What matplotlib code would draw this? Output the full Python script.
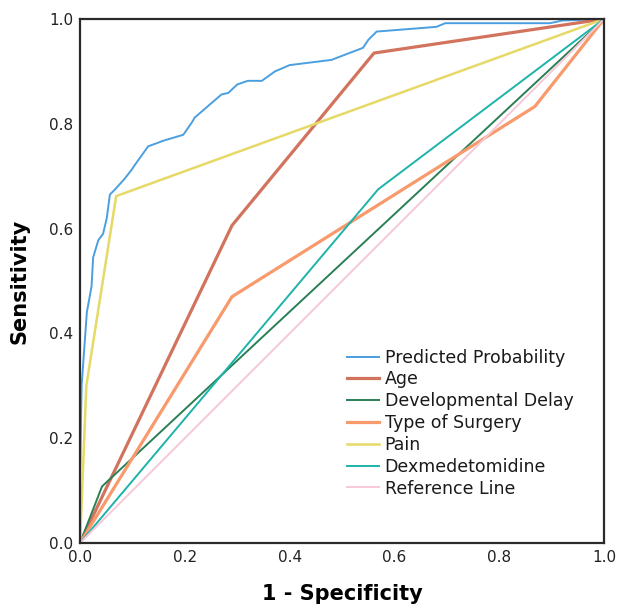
import matplotlib

matplotlib.use("Agg")
import matplotlib.pyplot as plt

# ROC curves (x = 1 - specificity, y = sensitivity)
pred_x = [0.0, 0.0, 0.003, 0.013, 0.022, 0.025, 0.035, 0.044, 0.051, 0.057,
          0.067, 0.085, 0.099, 0.105, 0.13, 0.16, 0.197, 0.213, 0.219, 0.27,
          0.283, 0.30, 0.32, 0.347, 0.372, 0.40, 0.48, 0.54, 0.55, 0.566,
          0.68, 0.697, 0.897, 0.92, 1.0]
pred_y = [0.0, 0.12, 0.30, 0.44, 0.49, 0.545, 0.578, 0.59, 0.62, 0.665,
          0.675, 0.695, 0.713, 0.722, 0.757, 0.768, 0.779, 0.802, 0.812, 0.856,
          0.859, 0.875, 0.882, 0.882, 0.90, 0.912, 0.922, 0.945, 0.96, 0.976,
          0.985, 0.992, 0.992, 0.997, 1.0]

age_x = [0.0, 0.29, 0.561, 1.0]
age_y = [0.0, 0.606, 0.935, 1.0]

delay_x = [0.0, 0.042, 1.0]
delay_y = [0.0, 0.108, 1.0]

surgery_x = [0.0, 0.29, 0.868, 1.0]
surgery_y = [0.0, 0.47, 0.833, 1.0]

pain_x = [0.0, 0.012, 0.069, 1.0]
pain_y = [0.0, 0.30, 0.662, 1.0]

dex_x = [0.0, 0.569, 1.0]
dex_y = [0.0, 0.675, 1.0]

ref_x = [0.0, 1.0]
ref_y = [0.0, 1.0]

ticks = [0.0, 0.2, 0.4, 0.6, 0.8, 1.0]

fig = plt.figure(figsize=(6.17, 6.09), dpi=100)
ax = fig.add_axes([0.1297, 0.1084, 0.8493, 0.8604])

ax.plot(pred_x, pred_y, color="#4a9fe0", lw=1.4, label="Predicted Probability")
ax.plot(age_x, age_y, color="#d2735e", lw=2.3, label="Age")
ax.plot(delay_x, delay_y, color="#2a7f55", lw=1.4, label="Developmental Delay")
ax.plot(surgery_x, surgery_y, color="#f89a6c", lw=2.3, label="Type of Surgery")
ax.plot(pain_x, pain_y, color="#e6d967", lw=1.8, label="Pain")
ax.plot(dex_x, dex_y, color="#1db3aa", lw=1.4, label="Dexmedetomidine")
ax.plot(ref_x, ref_y, color="#f7c8d8", lw=1.4, label="Reference Line")

ax.set_xlim(0, 1)
ax.set_ylim(0, 1)
ax.set_xticks(ticks)
ax.set_yticks(ticks)
ax.set_xticklabels([f"{t:.1f}" for t in ticks])
ax.set_yticklabels([f"{t:.1f}" for t in ticks])
ax.tick_params(length=0, labelsize=11, colors="#222222", pad=5)
for s in ax.spines.values():
    s.set_color("#2a2a2a")
    s.set_linewidth(1.6)

ax.set_xlabel("1 - Specificity", fontsize=15, fontweight="bold", labelpad=14)
ax.set_ylabel("Sensitivity", fontsize=15, fontweight="bold", labelpad=14)

leg = ax.legend(loc="upper left", bbox_to_anchor=(0.51, 0.371), frameon=False,
                fontsize=12.5, handlelength=1.85, handletextpad=0.3,
                labelspacing=0.22, borderaxespad=0, borderpad=0)
for t in leg.get_texts():
    t.set_color("#1a1a1a")

fig.savefig("out.png", dpi=100)
